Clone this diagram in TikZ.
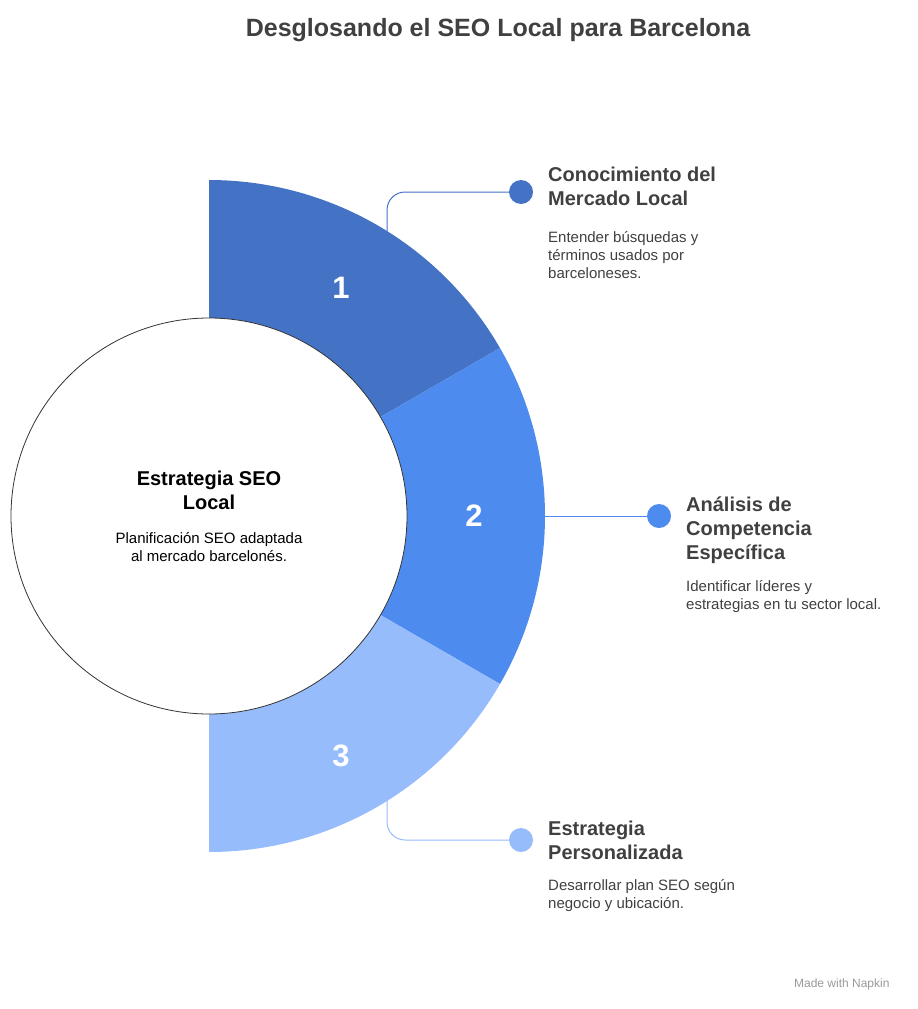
\documentclass[tikz,border=0pt]{standalone}
\usepackage{fontspec}
\setmainfont{Liberation Sans}
\usetikzlibrary{positioning}
\definecolor{one}{HTML}{4472C4}
\definecolor{two}{HTML}{4E8BEF}
\definecolor{three}{HTML}{96BCFC}
\definecolor{ink}{HTML}{404040}
\begin{document}
\begin{tikzpicture}[x=1pt, y=1pt,
  num/.style = {text=white, font=\fontsize{31}{31}\selectfont\bfseries},
  dot/.style = {circle, minimum size=24pt, inner sep=0pt},
  head/.style = {anchor=base west, align=left, inner sep=0pt, text=ink, font=\fontsize{20}{24}\selectfont\bfseries},
  body/.style = {anchor=base west, align=left, inner sep=0pt, text=ink, font=\fontsize{15}{18}\selectfont},
  link/.style = {line width=1pt, rounded corners=18pt}]
  \useasboundingbox (0,0) rectangle (918,-1009);
  \coordinate (c) at (209,-516);

  % ring segments
  \fill[one] (c) -- ++(90:336pt) arc[start angle=90, end angle=30, radius=336pt] -- cycle;
  \fill[two] (c) -- ++(30:336pt) arc[start angle=30, end angle=-30, radius=336pt] -- cycle;
  \fill[three] (c) -- ++(-30:336pt) arc[start angle=-30, end angle=-90, radius=336pt] -- cycle;
  \node[circle, draw=black!80, line width=0.8pt, fill=white, minimum size=396pt, inner sep=0pt] (hub) at (c) {};

  \node[num] (n1) at (341,-288) {1};
  \node[num] (n2) at (474,-516) {2};
  \node[num] (n3) at (341,-756) {3};

  % dots and connectors
  \node[dot, fill=one] (d1) at (521,-192) {};
  \node[dot, fill=two] (d2) at (659,-516) {};
  \node[dot, fill=three] (d3) at (521,-840) {};
  \coordinate (s1) at (387,-236);
  \coordinate (s2) at (544,-516);
  \coordinate (s3) at (387,-796);
  \draw[link, one] (s1) |- (d1);
  \draw[link, two] (s2) -- (d2);
  \draw[link, three] (s3) |- (d3);

  % texts (base = last line)
  \node[anchor=base, font=\fontsize{25}{25}\selectfont\bfseries, text=ink] (title) at (498,-36) {Desglosando el SEO Local para Barcelona};
  \node[anchor=base, align=center, font=\fontsize{20}{24}\selectfont\bfseries] (hubhead) at (209,-509) {Estrategia SEO\\Local};
  \node[anchor=base, align=center, font=\fontsize{15}{18}\selectfont] (hubtext) at (209,-561) {Planificación SEO adaptada\\al mercado barcelonés.};

  \node[head] (h1) at (548,-205) {Conocimiento del\\Mercado Local};
  \node[body] (t1) at (548,-278) {Entender búsquedas y\\términos usados por\\barceloneses.};
  \node[head] (h2) at (686,-559) {Análisis de\\Competencia\\Específica};
  \node[body] (t2) at (686,-609) {Identificar líderes y\\estrategias en tu sector local.};
  \node[head] (h3) at (548,-859) {Estrategia\\Personalizada};
  \node[body] (t3) at (548,-908) {Desarrollar plan SEO según\\negocio y ubicación.};

  \node[anchor=base east, text=black!40, font=\fontsize{12}{12}\selectfont] (mark) at (893,-987) {Made with Napkin};
\end{tikzpicture}
\end{document}
